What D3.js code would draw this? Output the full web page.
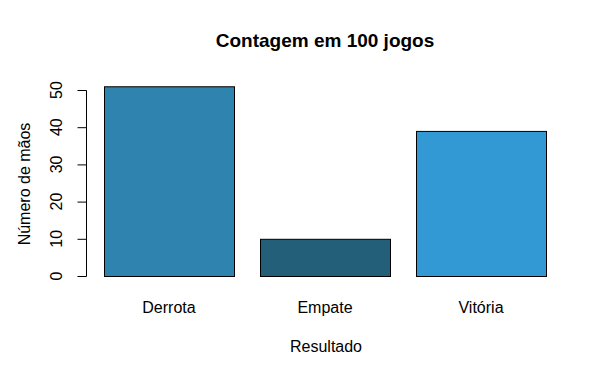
<!DOCTYPE html>
<html><head><meta charset="utf-8">
<script src="https://cdn.jsdelivr.net/npm/d3@7"></script>
<style>body{margin:0;background:#fff}text{font-family:"Liberation Sans",Arial,sans-serif;fill:#000}</style>
</head><body>
<svg id="c" width="612" height="384"></svg>
<script>
const categories = ["Derrota", "Empate", "Vitória"];
const values = [51, 10, 39];
const colors = ["#2E84AE", "#245F7A", "#3399D4"];
const yTicks = [0, 10, 20, 30, 40, 50];
const title = "Contagem em 100 jogos";
const xLabel = "Resultado";
const yLabel = "Número de mãos";

const svg = d3.select("#c");
const x = d3.scaleBand().domain(categories).range([91, 559]).paddingInner(1/6).paddingOuter(1/12);
const y = d3.scaleLinear().domain([0, 50]).range([276, 90]);

svg.selectAll("rect.bar").data(values).enter().append("rect")
  .attr("class", "bar")
  .attr("x", (d, i) => x(categories[i]) + 0.5)
  .attr("width", x.bandwidth())
  .attr("y", d => y(d) + 0.5)
  .attr("height", d => y(0) - y(d))
  .attr("fill", (d, i) => colors[i])
  .attr("stroke", "#000").attr("stroke-width", 1);

// y axis
const ax = svg.append("g").attr("transform", "translate(86.5,0)");
ax.append("line").attr("x1", 0).attr("x2", 0).attr("y1", y(0) + 0.5).attr("y2", y(50) + 0.5).attr("stroke", "#000");
ax.selectAll("line.t").data(yTicks).enter().append("line").attr("class", "t")
  .attr("x1", 0).attr("x2", -9).attr("y1", d => y(d) + 0.5).attr("y2", d => y(d) + 0.5).attr("stroke", "#000");
ax.selectAll("text").data(yTicks).enter().append("text")
  .attr("transform", d => `translate(-25,${y(d)}) rotate(-90)`)
  .attr("text-anchor", "middle").attr("font-size", 16).text(d => d);

// category labels
svg.selectAll("text.cat").data(categories).enter().append("text").attr("class", "cat")
  .attr("x", d => x(d) + x.bandwidth() / 2).attr("y", 313)
  .attr("text-anchor", "middle").attr("font-size", 16).text(d => d);

svg.append("text").attr("x", 325).attr("y", 47).attr("text-anchor", "middle")
  .attr("font-size", 19).attr("font-weight", "bold").text(title);
svg.append("text").attr("x", 326).attr("y", 352).attr("text-anchor", "middle")
  .attr("font-size", 16).text(xLabel);
svg.append("text").attr("transform", "translate(30,184) rotate(-90)").attr("text-anchor", "middle")
  .attr("font-size", 16).text(yLabel);
</script>
</body></html>
